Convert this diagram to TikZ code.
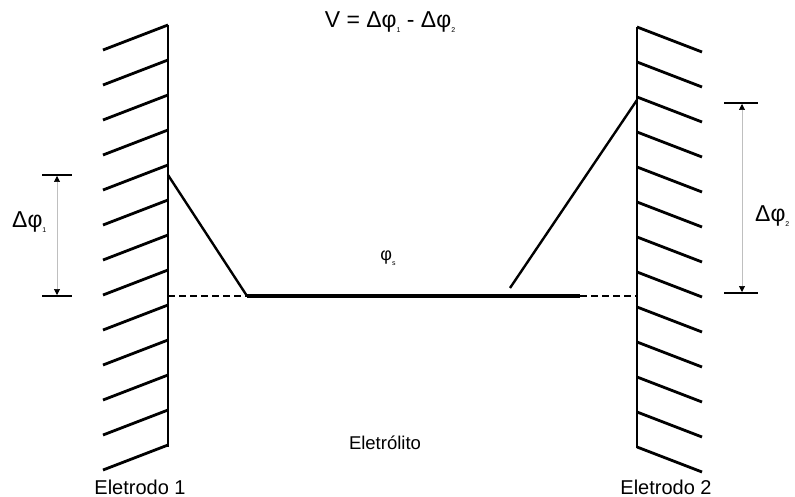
\documentclass[tikz,border=0pt]{standalone}
\usepackage{fontspec}
\setmainfont{Liberation Sans}
\usetikzlibrary{arrows.meta}
\newcommand{\lowidx}[1]{{\fontsize{7}{7}\selectfont\raisebox{-5pt}{#1}}}

\begin{document}
\begin{tikzpicture}[x=1pt,y=-1pt]
  \useasboundingbox (0,0) rectangle (795,497);
  \tikzset{
    wall/.style={line width=2.8pt},
    potline/.style={line width=2.4pt},
    tick/.style={line width=1.8pt},
    dashline/.style={line width=1.8pt,dash pattern=on 7pt off 4pt},
    dimline/.style={black!25,line width=0.6pt,
      {Triangle[length=6pt,width=6pt,color=black]}-{Triangle[length=6pt,width=6pt,color=black]}},
    lbl/.style={inner sep=0pt,font=\fontsize{23}{23}\selectfont}
  }
  % eletrodos
  \draw[wall] (168,25) -- (168,447);
  \foreach \k in {0,...,12}
    \draw[wall] (168,25+35*\k) -- ++(-65,25);
  \draw[wall] (637,27) -- (637,448);
  \foreach \k in {0,...,12}
    \draw[wall] (637,27+35*\k) -- ++(65,25);
  % potencial
  \coordinate (p1) at (168,175);
  \coordinate (w1) at (168,296);
  \coordinate (s1) at (247,296);
  \coordinate (s2) at (580,296);
  \coordinate (w2) at (637,296);
  \coordinate (q2) at (510,288);
  \coordinate (p2) at (637,100);
  \draw[potline] (p1) -- (s1);
  \draw[dashline] (w1) -- (s1);
  \draw[line width=3.2pt] (s1) -- (s2);
  \draw[dashline] (s2) -- (w2);
  \draw[potline] (q2) -- (p2);
  % cotas
  \draw[tick] (42,175) -- (72,175);
  \draw[tick] (42,296) -- (72,296);
  \draw[dimline] (57,176) -- (57,295);
  \draw[tick] (724,103) -- (758,103);
  \draw[tick] (724,293) -- (758,293);
  \draw[dimline] (742,104) -- (742,292);
  % textos
  \node[lbl,anchor=west] (d1) at (12,222) {Δφ\lowidx{1}};
  \node[lbl,anchor=west] (d2) at (755,216) {Δφ\lowidx{2}};
  \node[inner sep=0pt,font=\fontsize{18}{18}\selectfont] (phis) at (388,258) {φ\lowidx{s}};
  \node[lbl] (titulo) at (390,22) {V = Δφ\lowidx{1} - Δφ\lowidx{2}};
  \node[inner sep=0pt,font=\fontsize{18.5}{18.5}\selectfont] (eletrolito) at (385,443) {Eletrólito};
  \node[inner sep=0pt,anchor=base,font=\fontsize{20}{20}\selectfont] (el1) at (140,494) {Eletrodo 1};
  \node[inner sep=0pt,anchor=base,font=\fontsize{20}{20}\selectfont] (el2) at (666,494) {Eletrodo 2};
\end{tikzpicture}
\end{document}
